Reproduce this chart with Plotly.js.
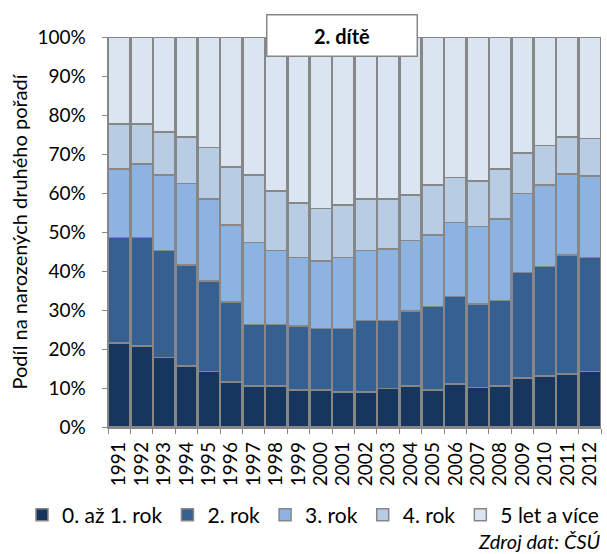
<!DOCTYPE html>
<html>
<head>
<meta charset="utf-8">
<script src="https://cdn.plot.ly/plotly-3.0.1.min.js"></script>
<style>html,body{margin:0;padding:0;background:#fff;}#chart{width:607px;height:554px;}</style>
</head>
<body>
<div id="chart"></div>
<script>
var years = ["1991","1992","1993","1994","1995","1996","1997","1998","1999","2000","2001","2002","2003","2004","2005","2006","2007","2008","2009","2010","2011","2012"];
var rok01 = [21.6,20.8,17.8,15.6,14.2,11.6,10.5,10.5,9.5,9.5,9.0,9.0,9.9,10.5,9.5,11.0,10.1,10.5,12.6,13.1,13.6,14.2];
var rok2  = [27.0,27.8,27.4,25.9,23.3,20.4,15.8,15.8,16.4,15.8,16.3,18.3,17.4,19.3,21.4,22.4,21.4,21.9,27.0,28.0,30.5,29.3];
var rok3  = [17.5,18.9,19.4,21.0,21.0,19.8,21.0,18.9,17.6,17.3,18.2,17.9,18.3,18.0,18.3,19.0,19.9,20.9,20.3,21.0,20.8,20.9];
var rok4  = [11.6,10.2,11.1,11.8,13.2,14.9,17.3,15.3,14.0,13.4,13.4,13.2,12.8,11.7,12.9,11.6,11.7,12.8,10.3,10.1,9.4,9.6];
var let5  = [22.3,22.3,24.3,25.7,28.3,33.3,35.4,39.5,42.5,44.0,43.1,41.6,41.6,40.5,37.9,36.0,36.9,33.9,29.8,27.8,25.7,26.0];
var seriesNames = ["0. až 1. rok","2. rok","3. rok","4. rok","5 let a více"];
var seriesData = [rok01, rok2, rok3, rok4, let5];
var colors = ["#17365D","#366092","#8DB3E2","#B8CCE4","#DBE5F1"];
var yTickVals = [0,10,20,30,40,50,60,70,80,90,100];
var yTickText = ["0%","10%","20%","30%","40%","50%","60%","70%","80%","90%","100%"];

var traces = seriesData.map(function(vals, i){
  return {
    type: "bar",
    name: seriesNames[i],
    x: years,
    y: vals,
    marker: {color: colors[i], line: {color: "#878787", width: 1.5}},
    hoverinfo: "x+y+name"
  };
});

var font = "Lato, 'Open Sans', sans-serif";
var layout = {
  width: 607, height: 554,
  barmode: "stack",
  barnorm: "percent",
  bargap: 0.05,
  margin: {l: 108, r: 6, t: 37, b: 127, autoexpand: false},
  paper_bgcolor: "#fff",
  plot_bgcolor: "#fff",
  font: {family: font, size: 19, color: "#000"},
  showlegend: true,
  legend: {
    orientation: "h",
    x: (22-108)/493, xanchor: "left", xref: "paper",
    y: (427-515)/390, yanchor: "middle", yref: "paper",
    font: {family: font, size: 21, color: "#000"},
    traceorder: "normal",
    itemwidth: 30
  },
  xaxis: {
    type: "category",
    tickmode: "array",
    tickvals: years,
    ticktext: years,
    tickangle: -90,
    automargin: false,
    ticks: "outside",
    tickson: "boundaries",
    ticklen: 5,
    tickcolor: "#878787",
    showline: true,
    linecolor: "#878787",
    linewidth: 1.5,
    showgrid: false,
    ticklabelstandoff: 6,
    tickfont: {family: font, size: 19}
  },
  yaxis: {
    range: [0, 100],
    tickvals: yTickVals,
    ticktext: yTickText,
    automargin: false,
    ticks: "outside",
    ticklen: 5,
    tickcolor: "#878787",
    showline: true,
    linecolor: "#878787",
    linewidth: 1.5,
    showgrid: false,
    zeroline: false,
    ticklabelstandoff: 12,
    tickfont: {family: font, size: 19},
    title: {text: "Podíl na narozených druhého pořadí", font: {family: font, size: 20}, standoff: 4}
  },
  annotations: [
    {
      text: "<b>2. dítě</b>",
      xref: "paper", yref: "paper",
      x: (342-108)/493, y: (427-35.5)/390,
      xanchor: "center", yanchor: "middle",
      showarrow: false,
      bgcolor: "#fff",
      bordercolor: "#878787",
      borderwidth: 1.5,
      borderpad: 1,
      width: 147, height: 38,
      font: {family: font, size: 20, color: "#000"}
    },
    {
      text: "<i>Zdroj dat: ČSÚ</i>",
      xref: "paper", yref: "paper",
      x: 1.005, y: (427-541)/390,
      xanchor: "right", yanchor: "middle",
      showarrow: false,
      font: {family: font, size: 20, color: "#000"}
    }
  ]
};

Plotly.newPlot("chart", traces, layout, {displayModeBar: false, staticPlot: true});
</script>
</body>
</html>
